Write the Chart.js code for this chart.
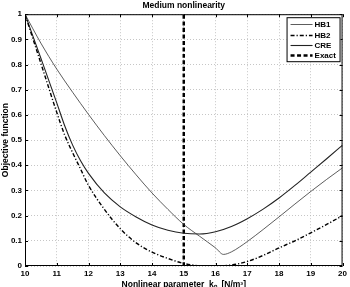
<!DOCTYPE html>
<html>
<head>
<meta charset="utf-8">
<script src="https://cdn.jsdelivr.net/npm/chart.js@4.4.1/dist/chart.umd.min.js"></script>
<style>
  html, body { margin: 0; padding: 0; background: #fff; }
  #wrap { width: 350px; height: 287px; position: relative; }
</style>
</head>
<body>
<div id="wrap"><canvas id="c"></canvas></div>
<script>
// values
const K_HB1 = [10, 10.5, 11, 11.5, 12, 12.5, 13, 13.5, 14, 14.5, 15, 15.5, 16, 16.25, 16.5, 16.75, 17, 17.5, 18, 18.5, 19, 19.5, 20];
const HB1 = [1, 0.885, 0.782, 0.69, 0.602, 0.518, 0.438, 0.362, 0.29, 0.225, 0.165, 0.118, 0.072, 0.046, 0.056, 0.075, 0.097, 0.145, 0.195, 0.246, 0.296, 0.344, 0.39];
const K_HB2 = [10, 10.5, 11, 11.25, 11.5, 11.75, 12, 12.5, 13, 13.5, 14, 14.5, 15, 15.5, 16, 16.5, 17, 17.5, 18, 18.5, 19, 19.5, 20];
const HB2 = [1, 0.805, 0.61, 0.52, 0.45, 0.385, 0.32, 0.225, 0.148, 0.092, 0.055, 0.03, 0.01, 0.001, 0, 0.004, 0.018, 0.042, 0.072, 0.1, 0.132, 0.165, 0.2];
const K_CRE = [10, 10.5, 11, 11.25, 11.5, 11.75, 12, 12.5, 13, 13.5, 14, 14.5, 15, 15.5, 16, 16.5, 17, 17.5, 18, 18.5, 19, 19.5, 20];
const CRE = [1, 0.825, 0.648, 0.557, 0.48, 0.418, 0.368, 0.29, 0.235, 0.195, 0.163, 0.142, 0.13, 0.127, 0.136, 0.157, 0.188, 0.226, 0.27, 0.32, 0.373, 0.426, 0.48];
const EXACT_K = 15;
const EXACT_Y = [0, 1];

const FONT = "'Liberation Sans', Arial, Helvetica, sans-serif";
const pts = (xs, ys) => xs.map((x, i) => ({ x, y: ys[i] }));

// MATLAB-like box with inward ticks
const framePlugin = {
  id: "frame",
  afterDatasetsDraw(chart) {
    const { ctx, chartArea: a, scales } = chart;
    ctx.save();
    ctx.strokeStyle = "#000";
    ctx.lineWidth = 1;
    ctx.strokeRect(a.left + 0.5, a.top + 0.5, a.right - a.left - 1, a.bottom - a.top - 1);
    ctx.beginPath();
    scales.x.ticks.forEach((t) => {
      const px = Math.round(scales.x.getPixelForValue(t.value)) + 0.5;
      ctx.moveTo(px, a.bottom); ctx.lineTo(px, a.bottom - 3);
      ctx.moveTo(px, a.top); ctx.lineTo(px, a.top + 3);
    });
    scales.y.ticks.forEach((t) => {
      const py = Math.round(scales.y.getPixelForValue(t.value)) + 0.5;
      ctx.moveTo(a.left, py); ctx.lineTo(a.left + 3, py);
      ctx.moveTo(a.right, py); ctx.lineTo(a.right - 3, py);
    });
    ctx.stroke();
    ctx.restore();
  },
};

// boxed legend in the top-right corner of the axes
const boxLegend = {
  id: "boxLegend",
  afterDraw(chart) {
    const { ctx, chartArea: a } = chart;
    const w = 54, h = 45;
    const x0 = a.right - 2 - w, y0 = a.top + 3;
    ctx.save();
    ctx.fillStyle = "#fff";
    ctx.fillRect(x0, y0, w, h);
    ctx.strokeStyle = "#000";
    ctx.lineWidth = 1;
    ctx.strokeRect(x0 + 0.5, y0 + 0.5, w - 1, h - 1);
    ctx.font = "bold 8px " + FONT;
    ctx.textBaseline = "middle";
    ctx.fillStyle = "#000";
    chart.data.datasets.forEach((ds, i) => {
      const y = Math.round(y0 + 7 + i * 10.4) + 0.5;
      ctx.beginPath();
      ctx.strokeStyle = ds.borderColor;
      ctx.lineWidth = ds.borderWidth;
      ctx.setLineDash(ds.borderDash || []);
      ctx.moveTo(x0 + 4, y);
      ctx.lineTo(x0 + 26, y);
      ctx.stroke();
      ctx.setLineDash([]);
      ctx.fillText(ds.label, x0 + 28, y);
    });
    ctx.restore();
  },
};

new Chart(document.getElementById("c"), {
  type: "line",
  data: {
    datasets: [
      { label: "HB1", data: pts(K_HB1, HB1), borderColor: "#333", borderWidth: 0.8 },
      { label: "HB2", data: pts(K_HB2, HB2), borderColor: "#000", borderWidth: 1.4, borderDash: [4, 2, 1.2, 2] },
      { label: "CRE", data: pts(K_CRE, CRE), borderColor: "#222", borderWidth: 1.1 },
      { label: "Exact", data: EXACT_Y.map((y) => ({ x: EXACT_K, y })), borderColor: "#000", borderWidth: 2.5, borderDash: [4, 2.5] },
    ],
  },
  options: {
    responsive: true,
    maintainAspectRatio: false,
    animation: false,
    layout: { padding: { left: 0, right: 7, top: 0, bottom: 0 } },
    elements: {
      point: { radius: 0 },
      line: { cubicInterpolationMode: "monotone", fill: false },
    },
    scales: {
      x: {
        type: "linear", min: 10, max: 20,
        afterFit: (s) => { s.height = 21; },
        ticks: { stepSize: 1, color: "#000", padding: 3, font: { family: FONT, size: 8, weight: "bold" } },
        grid: { color: "#b8b8b8", lineWidth: 0.8, drawTicks: false },
        border: { display: false, dash: [1, 2] },
        title: { display: true, text: "Nonlinear parameter  k\u2099  [N/m\u00b3]", color: "#000", padding: { top: 0, bottom: -3 }, font: { family: FONT, size: 8.5, weight: "bold" } },
      },
      y: {
        type: "linear", min: 0, max: 1,
        afterFit: (s) => { s.width = 25; },
        ticks: { stepSize: 0.1, color: "#000", padding: 3, font: { family: FONT, size: 8, weight: "bold" },
          callback: (v) => String(Math.round(v * 10) / 10) },
        grid: { color: "#b8b8b8", lineWidth: 0.8, drawTicks: false },
        border: { display: false, dash: [1, 2] },
        title: { display: true, text: "Objective function", color: "#000", padding: { top: 1, bottom: 0 }, font: { family: FONT, size: 8.5, weight: "bold" } },
      },
    },
    plugins: {
      legend: { display: false },
      tooltip: { enabled: false },
      title: {
        display: true, text: "Medium nonlinearity", fullSize: false, color: "#000",
        padding: { top: 1, bottom: 3 }, font: { family: FONT, size: 8.5, weight: "bold" },
      },
    },
  },
  plugins: [framePlugin, boxLegend],
});
</script>
</body>
</html>
